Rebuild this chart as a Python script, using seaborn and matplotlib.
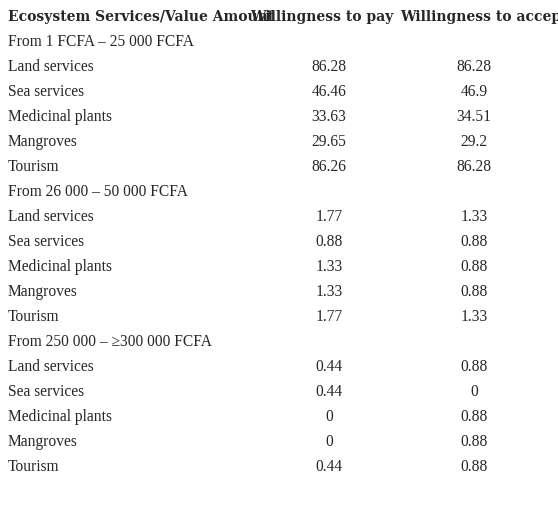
import matplotlib
matplotlib.use("Agg")
import matplotlib.pyplot as plt
import seaborn as sns

headers = ["Ecosystem Services/Value Amount", "Willingness to pay", "Willingness to accept"]
groups = ["From 1 FCFA – 25 000 FCFA", "From 26 000 – 50 000 FCFA", "From 250 000 – ≥300 000 FCFA"]
services = ["Land services", "Sea services", "Medicinal plants", "Mangroves", "Tourism"]
wtp = [["86.28", "46.46", "33.63", "29.65", "86.26"],
       ["1.77", "0.88", "1.33", "1.33", "1.77"],
       ["0.44", "0.44", "0", "0", "0.44"]]
wta = [["86.28", "46.9", "34.51", "29.2", "86.28"],
       ["1.33", "0.88", "0.88", "0.88", "1.33"],
       ["0.88", "0", "0.88", "0.88", "0.88"]]

sns.set_style("white")
plt.rcParams['font.family'] = ['Liberation Serif', 'DejaVu Serif']

fig = plt.figure(figsize=(5.58, 5.17), dpi=100)
ax = fig.add_axes([0, 0, 1, 1])
ax.set_xlim(0, 558)
ax.set_ylim(517, 0)
ax.axis("off")

fs = 11.2
hfs = 10.0
hfam = ['DejaVu Serif']
ax.text(8, 17, headers[0], fontsize=hfs, fontweight="bold", va="center", ha="left", family=hfam)
ax.text(250, 17, headers[1], fontsize=hfs, fontweight="bold", va="center", ha="left", family=hfam)
ax.text(400, 17, headers[2], fontsize=hfs, fontweight="bold", va="center", ha="left", family=hfam)

y = 42
for g, grp in enumerate(groups):
    ax.text(8, y, grp, fontsize=fs, va="center", ha="left")
    y += 25
    for i, s in enumerate(services):
        ax.text(8, y, s, fontsize=fs, va="center", ha="left")
        ax.text(329, y, wtp[g][i], fontsize=fs, va="center", ha="center")
        ax.text(474, y, wta[g][i], fontsize=fs, va="center", ha="center")
        y += 25

fig.savefig("out.png", dpi=100)
